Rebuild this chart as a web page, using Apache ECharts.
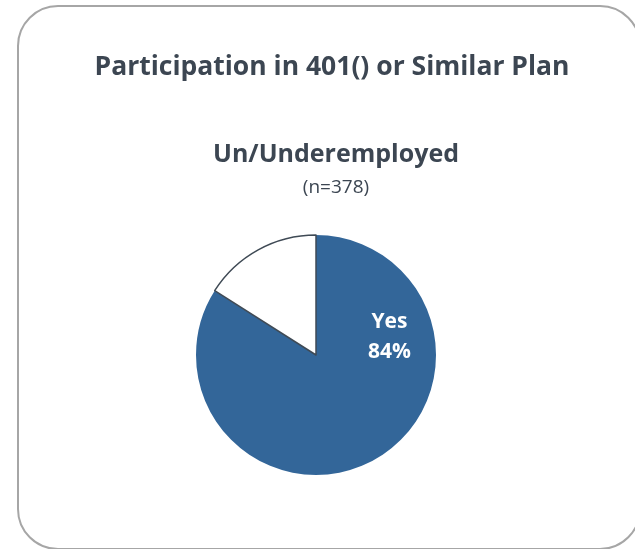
<!DOCTYPE html>
<html><head><meta charset="utf-8">
<script src="https://cdn.jsdelivr.net/npm/echarts@6/dist/echarts.min.js"></script>
<style>html,body{margin:0;padding:0;background:#fff}#c{width:635px;height:549px}</style>
</head><body><div id="c"></div>
<script>
const titleText = "Participation in 401() or Similar Plan";
const subTitle = "Un/Underemployed";
const sampleNote = "(n=378)";
const categories = ["Yes", "No"];
const values = [84, 16];
const colors = ["#336699", "#ffffff"];

const textColor = '#3c4652';
const chart = echarts.init(document.getElementById('c'));
chart.setOption({
  backgroundColor: '#fff',
  animation: false,
  graphic: [
    { type: 'rect', left: 17, top: 5, z: -1,
      shape: { width: 622, height: 543, r: 40 },
      style: { fill: '#fff', stroke: '#a6a6a6', lineWidth: 2 } },
    { type: 'text', x: 332, y: 67, z: 10,
      style: { text: titleText, align: 'center', verticalAlign: 'middle',
        font: 'bold 26.5px "Open Sans"', fill: textColor } },
    { type: 'text', x: 336, y: 155, z: 10,
      style: { text: subTitle, align: 'center', verticalAlign: 'middle',
        font: 'bold 25px "Open Sans"', fill: textColor } },
    { type: 'text', x: 336, y: 188, z: 10,
      style: { text: sampleNote, align: 'center', verticalAlign: 'middle',
        font: '19px "Open Sans"', fill: textColor } }
  ],
  series: [{
    type: 'pie',
    center: [316, 355],
    radius: [0, 120],
    startAngle: 90,
    clockwise: true,
    silent: true,
    labelLine: { show: false },
    data: categories.map((c, i) => ({
      name: c, value: values[i],
      itemStyle: { color: colors[i], borderColor: i === 1 ? '#3f4a55' : colors[i], borderWidth: i === 1 ? 1.5 : 0 },
      label: i === 0 ? {
        show: true, position: 'inside', offset: [43, -73],
        formatter: p => p.name + '\n' + p.value + '%',
        color: '#fff', fontFamily: 'Open Sans', fontWeight: 'bold', fontSize: 21, lineHeight: 30
      } : { show: false }
    }))
  }]
});
</script></body></html>
